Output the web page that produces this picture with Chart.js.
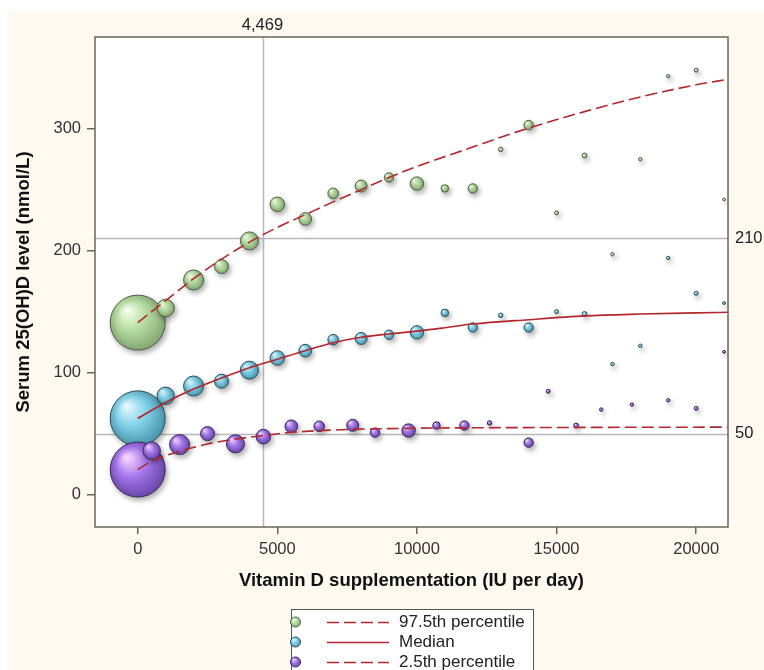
<!DOCTYPE html>
<html><head><meta charset="utf-8">
<script src="https://cdn.jsdelivr.net/npm/chart.js@4/dist/chart.umd.min.js"></script>
<style>html,body{margin:0;padding:0;background:#fff;}canvas{display:block;}</style>
</head><body>
<canvas id="c" width="764" height="670"></canvas>
<script>
// ---- data ----
const doses = [0,1000,2000,3000,4000,5000,6000,7000,8000,9000,10000,11000,12000,13000,14000,15000,16000,17000,18000,19000,20000,21000];
const upperLevels = [141,153,176,187,208,238,226,247,253,260,255,251,251,283,303,231,278,197,275,343,348,242];
const medianLevels = [62.5,81,89,93,102,112,118,127,128,131,133,149,137,147,137,150,148,107,122,194,165,157];
const lowDoses = [0,500,1500,2500,3500,4500,5500,6500,7700,8500,9700,10700,11700,12600,14000,14700,15700,16600,17700,19000,20000,21000];
const lowerLevels = [20.5,36,41,50,41.6,47.5,56,56,56.8,50.8,52.5,56.6,56.6,58.7,42.6,84.7,56.6,69.7,73.8,77.3,70.7,117];
const weights = [756,76,100,49,81,53,40,28,36,22,45,14,22,5,22,4,6,3,3,3,4,2];

const upperCurveDoses = [0,1000,2000,3000,4000,5000,6000,7000,8000,9000,10000,12000,13000,14000,16000,18000,20000,21140];
const upperCurveLevels = [141,159,177,193,207,219,229.5,240,250,260,269,285,293,300.5,314,326,336,340.5];
const medianCurveDoses = [0,1000,2000,3000,4000,5000,6000,7000,8000,9000,10000,11000,12000,14000,16000,18000,20000,21140];
const medianCurveLevels = [62.5,75.5,86.5,95.5,104,111,118,124.5,129,131.7,134,136.8,139.8,143.4,146.5,148,149,149.5];
const lowerCurveDoses = [0,500,1500,2500,3500,4500,5500,7500,10000,15000,21140];
const lowerCurveLevels = [20.5,27.5,35.5,41.5,45.5,48.4,51,53.3,54.4,55,55.3];

const xTickValues = [0,5000,10000,15000,20000];
const yTickValues = [0,100,200,300];
const refDose = 4469;
const refDoseLabel = '4,469';
const refLevels = [210, 50];
const legendLabels = ['97.5th percentile','Median','2.5th percentile'];
const xTitle = 'Vitamin D supplementation (IU per day)';
const yTitle = 'Serum 25(OH)D level (nmol/L)';

const FONT = 'Arial, "Liberation Sans", sans-serif';
const RED = '#b3262c';
const DASH = [12,5];
const pal = {
  green: ['#f4fdea','#b4dc9f','#7c9c6c','#4f5f47'],
  blue:  ['#e2f9ff','#7fd0e8','#3f8aa0','#2e4f5a'],
  purple:['#f7d4ff','#a474ea','#5e3f9e','#3a2a58']
};

function shade(p) {
  return (c) => {
    const chart = c.chart;
    if (c.type !== 'data' || !chart.chartArea || !c.raw) return p[1];
    const px = chart.scales.x.getPixelForValue(c.raw.x);
    const py = chart.scales.y.getPixelForValue(c.raw.y);
    const r = Math.max(c.raw.r, 1);
    const g = chart.ctx.createRadialGradient(px - r*0.4, py - r*0.45, r*0.05, px - r*0.05, py - r*0.05, r*1.2);
    g.addColorStop(0, p[0]); g.addColorStop(0.45, p[1]); g.addColorStop(1, p[2]);
    return g;
  };
}
const bubbles = (xs, ys) => xs.map((x,i) => ({x, y: ys[i], r: Math.sqrt(weights[i])}));
const pts = (xs, ys) => xs.map((x,i) => ({x, y: ys[i]}));

const bgPlugin = {
  id: 'bg',
  beforeDraw(chart) {
    const {ctx, chartArea: a} = chart;
    ctx.save();
    ctx.fillStyle = '#ffffff'; ctx.fillRect(0,0,chart.width,chart.height);
    ctx.fillStyle = '#fdf9f1'; ctx.fillRect(7,11,chart.width-7,chart.height-11);
    ctx.fillStyle = '#ffffff'; ctx.fillRect(a.left,a.top,a.right-a.left,a.bottom-a.top);
    ctx.restore();
  },
  beforeDatasetsDraw(chart) {
    const {ctx, chartArea: a, scales: {x, y}} = chart;
    ctx.save();
    ctx.strokeStyle = '#b8b8b8'; ctx.lineWidth = 1.5;
    const vx = Math.round(x.getPixelForValue(refDose)) + 0.5;
    ctx.beginPath(); ctx.moveTo(vx, a.top); ctx.lineTo(vx, a.bottom); ctx.stroke();
    refLevels.forEach(v => {
      const hy = Math.round(y.getPixelForValue(v)) + 0.5;
      ctx.beginPath(); ctx.moveTo(a.left, hy); ctx.lineTo(a.right, hy); ctx.stroke();
    });
    ctx.restore();
  },
  beforeDatasetDraw(chart, args) {
    if (chart.data.datasets[args.index].type === 'bubble') {
      const ctx = chart.ctx;
      ctx.save();
      ctx.shadowColor = 'rgba(0,0,0,0.3)'; ctx.shadowBlur = 5;
      ctx.shadowOffsetX = 2; ctx.shadowOffsetY = 3;
    }
  },
  afterDatasetDraw(chart, args) {
    if (chart.data.datasets[args.index].type === 'bubble') chart.ctx.restore();
  },
  afterDraw(chart) {
    const {ctx, chartArea: a, scales: {x, y}} = chart;
    ctx.save();
    // frame
    ctx.strokeStyle = '#6b6659'; ctx.lineWidth = 1.5;
    ctx.strokeRect(a.left, a.top, a.right - a.left, a.bottom - a.top);
    // reference labels
    ctx.fillStyle = '#222'; ctx.font = '16.5px ' + FONT;
    ctx.textAlign = 'center'; ctx.textBaseline = 'middle';
    ctx.fillText(refDoseLabel, x.getPixelForValue(refDose), 25);
    ctx.textAlign = 'left';
    refLevels.forEach(v => ctx.fillText(String(v), a.right + 7, y.getPixelForValue(v)));
    // legend
    const lx = 291, ly = 609;
    ctx.fillStyle = '#ffffff'; ctx.fillRect(lx, ly, 242, 80);
    ctx.strokeStyle = '#555'; ctx.lineWidth = 1; ctx.strokeRect(lx + 0.5, ly + 0.5, 242, 80);
    const keys = ['green','blue','purple'];
    const dashes = [DASH,[],DASH];
    legendLabels.forEach((t, i) => {
      const cy = 622 + i * 20;
      const p = pal[keys[i]];
      const g = ctx.createRadialGradient(293.5, cy - 2.5, 0.3, 295.5, cy, 6);
      g.addColorStop(0, p[0]); g.addColorStop(0.45, p[1]); g.addColorStop(1, p[2]);
      ctx.beginPath(); ctx.arc(295.5, cy, 5, 0, Math.PI * 2);
      ctx.fillStyle = g; ctx.fill(); ctx.strokeStyle = p[3]; ctx.lineWidth = 1; ctx.stroke();
      ctx.beginPath(); ctx.setLineDash(dashes[i]); ctx.strokeStyle = RED; ctx.lineWidth = 1.5;
      ctx.moveTo(327, cy + 0.5); ctx.lineTo(389, cy + 0.5); ctx.stroke(); ctx.setLineDash([]);
      ctx.fillStyle = '#222'; ctx.font = '17px ' + FONT; ctx.textAlign = 'left'; ctx.textBaseline = 'middle';
      ctx.fillText(t, 399, cy);
    });
    ctx.restore();
  }
};

const lineDs = (label, xs, ys, dash) => ({
  type: 'line', label, data: pts(xs, ys), borderColor: RED, borderWidth: 1.6,
  borderDash: dash, pointRadius: 0, cubicInterpolationMode: 'monotone', fill: false, order: 1
});
const bubbleDs = (label, xs, ys, p, order) => ({
  type: 'bubble', label, data: bubbles(xs, ys), backgroundColor: shade(p),
  borderColor: p[3], borderWidth: 1, order
});

new Chart(document.getElementById('c'), {
  data: {
    datasets: [
      lineDs('97.5th percentile curve', upperCurveDoses, upperCurveLevels, DASH),
      lineDs('Median curve', medianCurveDoses, medianCurveLevels, []),
      lineDs('2.5th percentile curve', lowerCurveDoses, lowerCurveLevels, DASH),
      bubbleDs('97.5th percentile', doses, upperLevels, pal.green, 5),
      bubbleDs('Median', doses, medianLevels, pal.blue, 4),
      bubbleDs('2.5th percentile', lowDoses, lowerLevels, pal.purple, 3)
    ]
  },
  options: {
    responsive: false, animation: false, events: [],
    layout: { padding: { top: 37, right: 36, bottom: 78, left: 0 } },
    plugins: { legend: { display: false }, tooltip: { enabled: false } },
    scales: {
      x: {
        type: 'linear', min: -1530, max: 21140,
        afterBuildTicks(s) { s.ticks = xTickValues.map(v => ({value: v})); },
        afterFit(s) { s.height = 65; },
        border: { display: false },
        grid: { drawOnChartArea: false, drawTicks: true, tickLength: 7, color: '#6b6659', lineWidth: 1.5 },
        ticks: { padding: 6, color: '#333', font: { family: FONT, size: 16.5 },
                 callback: v => String(v), maxRotation: 0, autoSkip: false },
        title: { display: true, text: xTitle, color: '#111', font: { family: FONT, size: 18.5, weight: 'bold' }, padding: { top: 0, bottom: 0 } }
      },
      y: {
        type: 'linear', min: -26.6, max: 375.2,
        afterBuildTicks(s) { s.ticks = yTickValues.map(v => ({value: v})); },
        afterFit(s) { s.width = 95; },
        border: { display: false },
        grid: { drawOnChartArea: false, drawTicks: true, tickLength: 8, color: '#6b6659', lineWidth: 1.5 },
        ticks: { padding: 6, color: '#333', font: { family: FONT, size: 16.5 },
                 callback: v => String(v), autoSkip: false },
        title: { display: true, text: yTitle, color: '#111', font: { family: FONT, size: 18.5, weight: 'bold' }, padding: { top: 13, bottom: 0 } }
      }
    }
  },
  plugins: [bgPlugin]
});
</script>
</body></html>
